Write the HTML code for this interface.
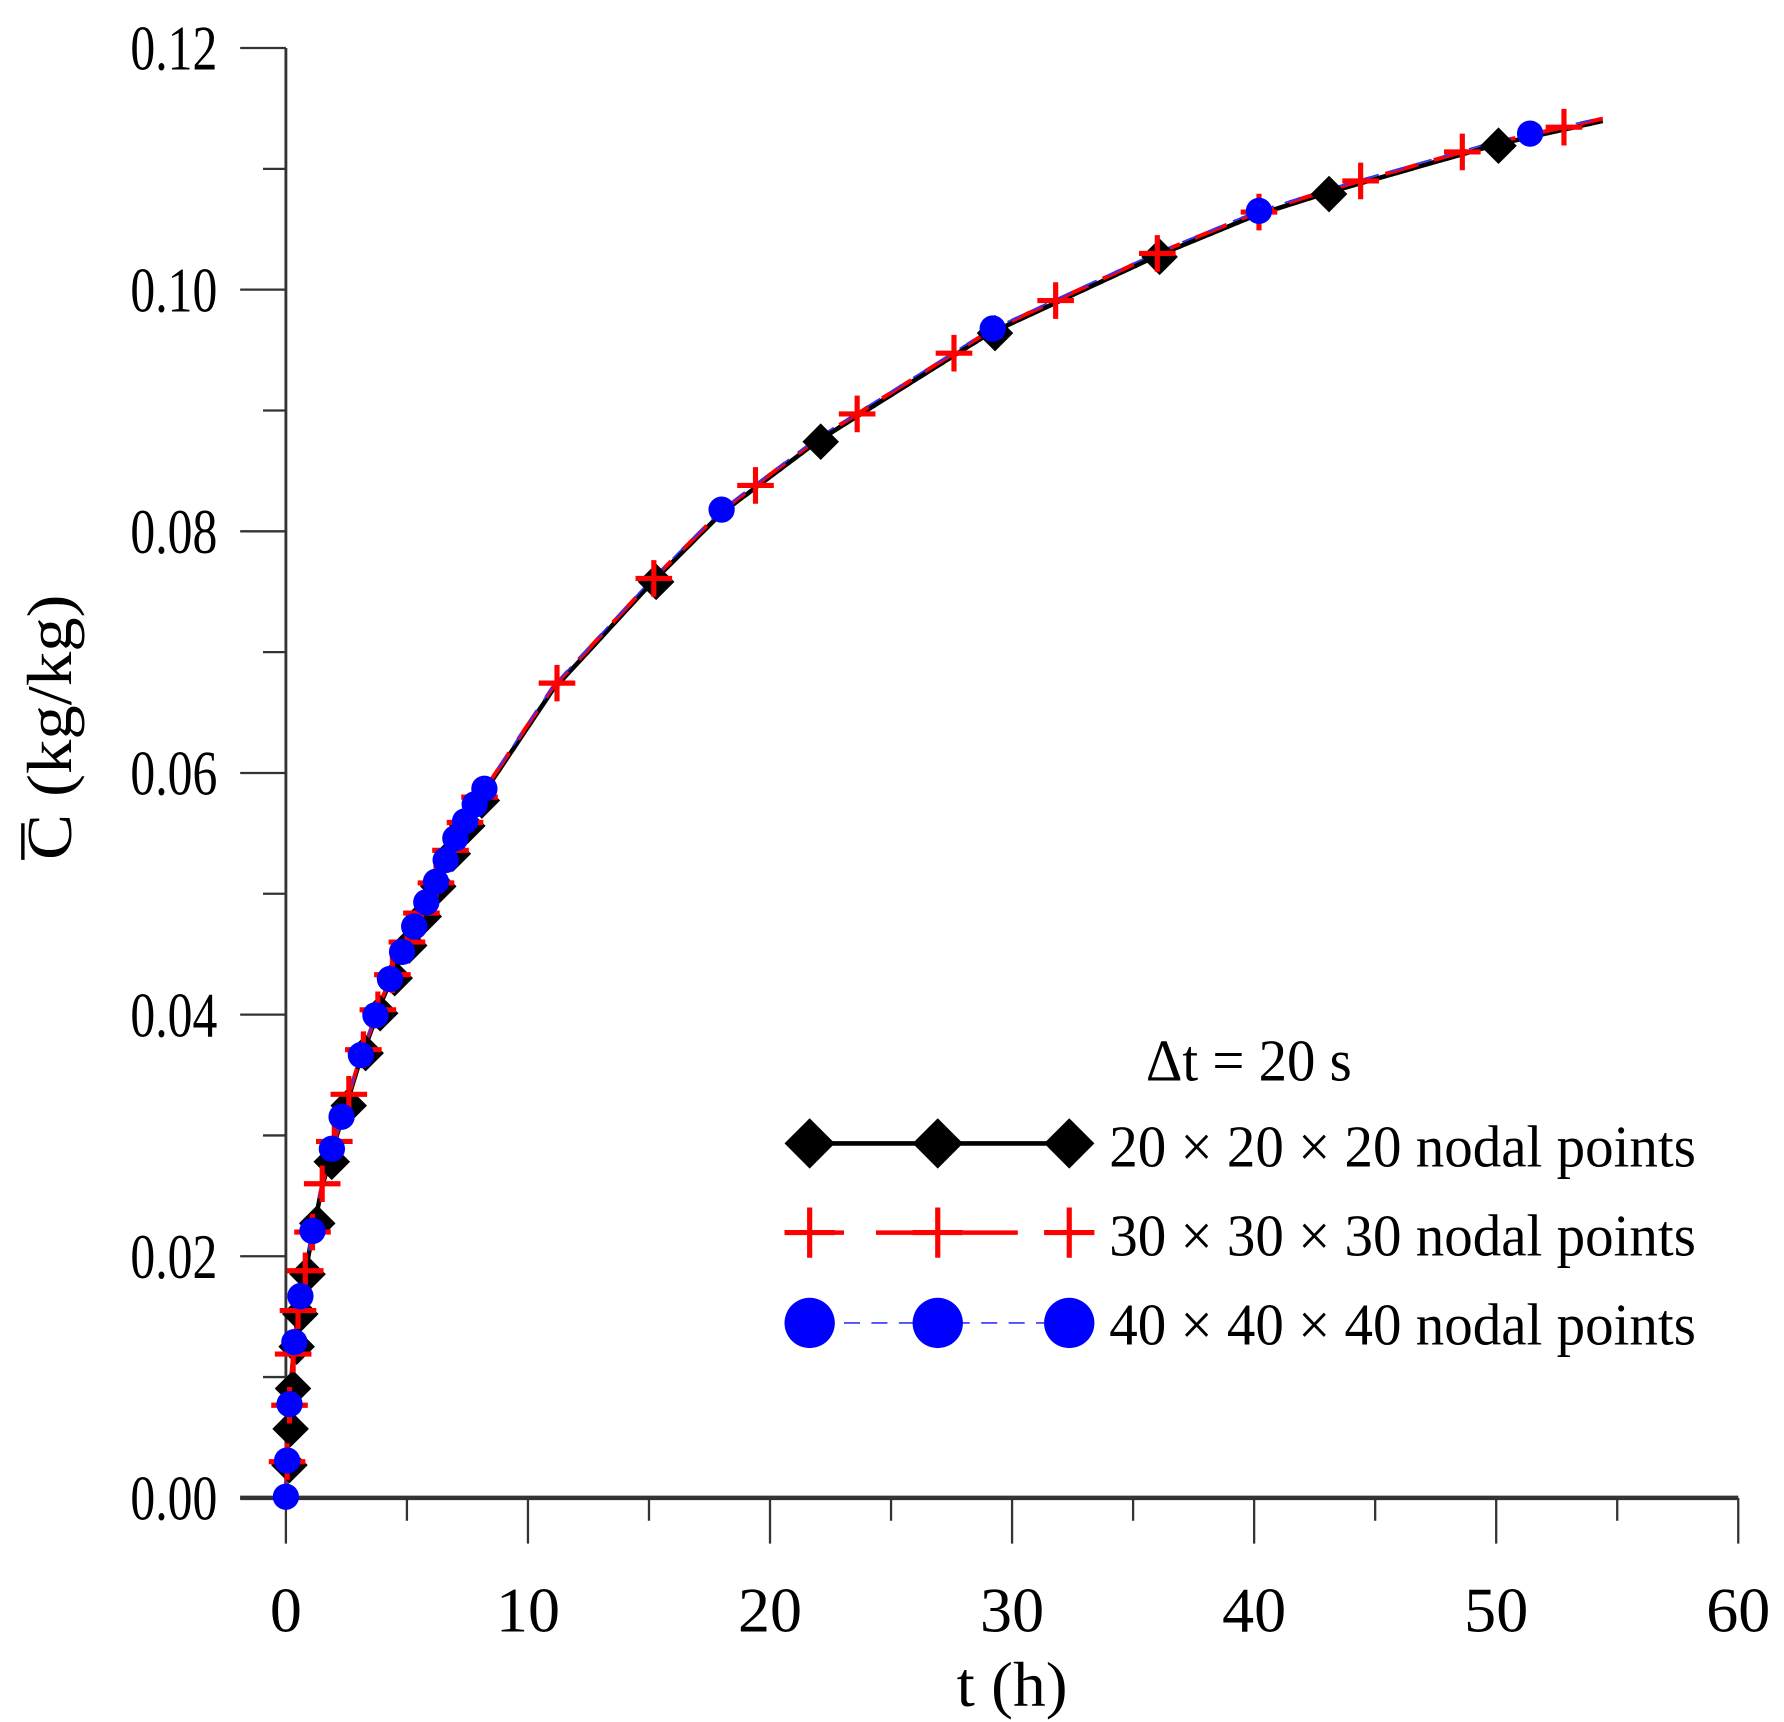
<!DOCTYPE html>
<html><head><meta charset="utf-8"><style>html,body{margin:0;padding:0;background:#fff}svg{display:block}</style></head>
<body>
<svg id="s" width="1784" height="1722" viewBox="0 0 1560 1506" preserveAspectRatio="none" xmlns="http://www.w3.org/2000/svg" font-family="'Liberation Serif', serif" fill="#000">
<g stroke="#333" stroke-width="2.5" fill="none">
<line x1="250" y1="42" x2="250" y2="1312"/>
<line x1="210" y1="1310" x2="1520" y2="1310" stroke-width="4"/>
</g>
<g id="ticks" stroke="#333" stroke-width="2" fill="none"></g>
<g id="labels" font-size="56"></g>
<text x="885" y="1492" font-size="56" text-anchor="middle" textLength="97" lengthAdjust="spacingAndGlyphs">t (h)</text>
<g transform="translate(62,636) rotate(-90)">
<text x="0" y="0" font-size="56" text-anchor="middle" textLength="232" lengthAdjust="spacingAndGlyphs">C (kg/kg)</text>
<line x1="-116" y1="-42" x2="-84" y2="-42" stroke="#000" stroke-width="3"/>
</g>
<g id="curves"></g>
<g id="legend">
<text x="1002" y="945" font-size="52" textLength="180" lengthAdjust="spacingAndGlyphs">Δt = 20 s</text>
<text x="970" y="1020" font-size="52" textLength="513" lengthAdjust="spacingAndGlyphs">20 × 20 × 20 nodal points</text>
<text x="970" y="1098" font-size="52" textLength="513" lengthAdjust="spacingAndGlyphs">30 × 30 × 30 nodal points</text>
<text x="970" y="1176" font-size="52" textLength="513" lengthAdjust="spacingAndGlyphs">40 × 40 × 40 nodal points</text>
<line x1="690" y1="1000" x2="955" y2="1000" stroke="#000" stroke-width="4"/>
<line x1="690" y1="1078" x2="955" y2="1078" stroke="#f00" stroke-width="4" stroke-dasharray="48 28"/>
<line x1="690" y1="1157" x2="955" y2="1157" stroke="#33f" stroke-width="1.5" stroke-dasharray="14 10"/>
</g>
</svg>
<script>
var NS="http://www.w3.org/2000/svg";
function el(p,n,a){var e=document.createElementNS(NS,n);for(var k in a)e.setAttribute(k,a[k]);p.appendChild(e);return e;}
var X=function(t){return 250+t*1270/60;}, Y=function(c){return 1310-c*1268/0.12;};
var tk=document.getElementById('ticks'), lb=document.getElementById('labels');
for(var i=0;i<=12;i++){var y=Y(i*0.01);el(tk,'line',{x1:i%2?230:210,y1:y,x2:250,y2:y});
 if(i%2==0){var t=el(lb,'text',{x:190,y:y+19,'text-anchor':'end',textLength:76,lengthAdjust:'spacingAndGlyphs'});t.textContent=(i*0.01).toFixed(2);}}
for(var i=0;i<=12;i++){var x=X(i*5);el(tk,'line',{x1:x,y1:1310,x2:x,y2:i%2?1330:1350});
 if(i%2==0){var t=el(lb,'text',{x:x,y:1427,'text-anchor':'middle'});t.textContent=i*5;}}
var A=[[0,0],[0.05,0.003],[0.1,0.006],[0.25,0.011],[0.5,0.0155],[1,0.021],[1.5,0.026],[2,0.0295],[3,0.036],[4,0.0415],[5,0.046],[6,0.050],[7,0.0545],[8,0.058],[11,0.067],[15,0.0757],[18,0.0817],[22,0.0877],[29,0.0965],[36,0.1030],[40,0.1063],[43,0.1082],[50,0.1122],[54.5,0.1142]];
function C(t){for(var i=1;i<A.length;i++){if(t<=A[i][0]){var a=A[i-1],b=A[i],f=(t-a[0])/(b[0]-a[0]);return a[1]+f*(b[1]-a[1]);}}return A[A.length-1][1];}
var g=document.getElementById('curves');
function path(off){var d='';for(var t=0;t<=54.5;t+=0.1){d+=(t?'L':'M')+X(t).toFixed(1)+','+(Y(C(t))+off).toFixed(1);}return d;}
el(g,'path',{d:path(2),stroke:'#000','stroke-width':4,fill:'none'});
el(g,'path',{d:path(0),stroke:'#f00','stroke-width':3.5,fill:'none','stroke-dasharray':'30 14'});
el(g,'path',{d:path(-1),stroke:'#33f','stroke-width':1.5,fill:'none','stroke-dasharray':'14 10'});
function diamond(p,x,y,r){el(p,'polygon',{points:(x-r)+','+y+' '+x+','+(y-r)+' '+(x+r)+','+y+' '+x+','+(y+r),fill:'#000'});}
function plus(p,x,y,r){el(p,'path',{d:'M'+(x-r)+','+y+'H'+(x+r)+'M'+x+','+(y-r)+'V'+(y+r),stroke:'#f00','stroke-width':4.5,fill:'none'});}
function circ(p,x,y,r){el(p,'circle',{cx:x,cy:y,r:r,fill:'#00f'});}
var bk=[0.05,0.1,0.2,0.35,0.5,0.8,1.2,1.8,2.5,3.2,3.8,4.4,5,5.6,6.2,6.8,7.4,8,15.2,22,29.2,36,43,50];
var rd=[0.05,0.15,0.3,0.5,0.8,1.1,1.5,2,2.6,3.2,3.8,4.4,5,5.6,6.2,6.8,7.4,8,11.2,15.2,19.4,23.6,27.6,31.8,36,40.2,44.4,48.6,52.8];
var bl=[0,0.05,0.15,0.35,0.6,1.1,1.9,2.3,3.1,3.7,4.3,4.8,5.3,5.8,6.2,6.6,7,7.4,7.8,8.2,18,29.2,40.2,51.4];
bk.forEach(function(t){diamond(g,X(t)+2,Y(C(t))+3,16);});
rd.forEach(function(t){plus(g,X(t),Y(C(t)),16);});
bl.forEach(function(t){circ(g,X(t),Y(C(t))-1,11.5);});
var lg=document.getElementById('legend');
[708,820,935].forEach(function(x){diamond(lg,x,1000,22);plus(lg,x,1078,22);circ(lg,x,1157,22);});
</script>
</body></html>
